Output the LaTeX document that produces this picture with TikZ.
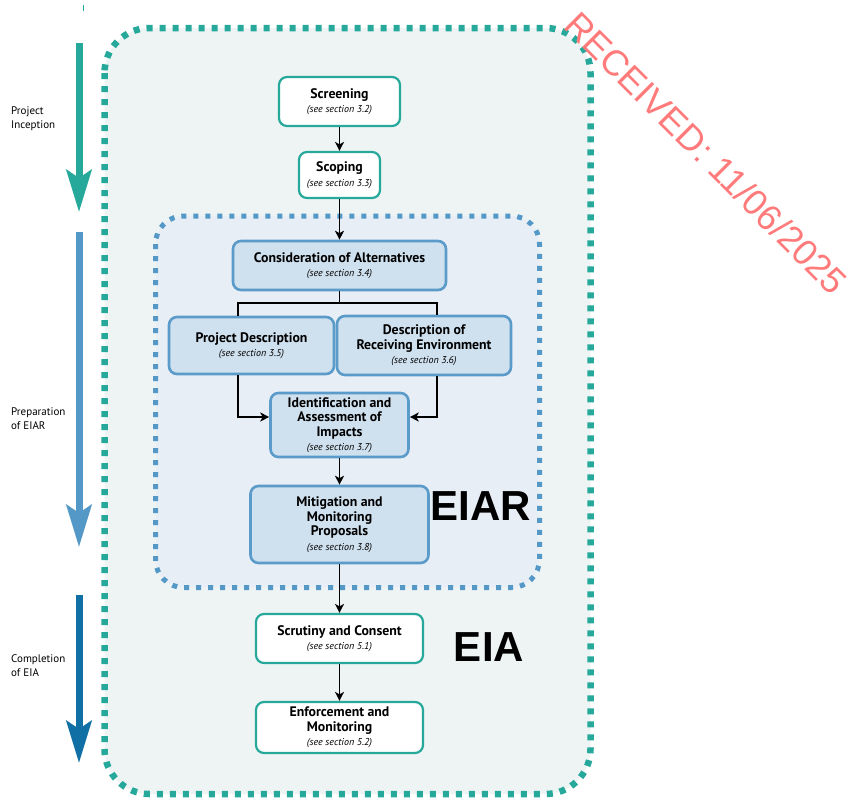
\documentclass[tikz,border=0pt]{standalone}
\usepackage{fontspec}
\setmainfont{PT Sans}
\newfontfamily\stampfont{Liberation Sans}
\usetikzlibrary{arrows.meta}
\definecolor{tealc}{HTML}{26A99B}
\definecolor{bluec}{HTML}{5398C6}
\definecolor{dblue}{HTML}{1070A6}
\definecolor{outerfill}{HTML}{EEF4F4}
\definecolor{innerfill}{HTML}{E8EEF6}
\definecolor{boxblue}{HTML}{CFE0EE}
\definecolor{boxborder}{HTML}{5B9BC9}
\definecolor{stampred}{HTML}{FF7A7A}
\tikzset{
  tbox/.style={draw=tealc, line width=2.2pt, fill=white, rounded corners=8pt, align=center, inner sep=1pt, font=\fontsize{13.8}{14.5}\selectfont},
  bbox/.style={draw=boxborder, line width=2.6pt, fill=boxblue, rounded corners=8pt, align=center, inner sep=1pt, font=\fontsize{13.8}{14.5}\selectfont},
  arr/.style={line width=1.7pt, -{Stealth[length=9pt,width=9pt,inset=2.5pt]}},
  ln/.style={line width=1.7pt},
  bigarr/.style={line width=7pt, -{Stealth[length=42pt,width=25pt,inset=8pt]}},
  side/.style={font=\fontsize{11}{14}\selectfont, align=left, anchor=west, inner sep=0pt}
}
\newcommand{\ttlf}{\bfseries\fontsize{13.8}{14.5}\selectfont}
\newcommand{\sect}[1]{{\fontsize{10}{14.5}\selectfont\itshape (see section #1)}}
\begin{document}
\begin{tikzpicture}[x=1pt,y=-1pt]
\useasboundingbox (0,0) rectangle (854,798);
\fill[white] (0,0) rectangle (854,798);
% outer dotted frame
\draw[tealc, fill=outerfill, line width=6.5pt, dash pattern=on 6pt off 7pt, rounded corners=45pt] (104.5,28) rectangle (590.5,794);
% inner dotted frame
\draw[bluec, fill=innerfill, line width=5pt, dash pattern=on 5pt off 7pt, rounded corners=28pt] (155.5,216) rectangle (539.5,587.5);
% tiny tick
\draw[tealc, line width=0.8pt] (83,5) -- (83,11);
% left arrows
\coordinate (a1s) at (79,43); \coordinate (a1e) at (79,212);
\coordinate (a2s) at (79,232); \coordinate (a2e) at (79,547);
\coordinate (a3s) at (79,595); \coordinate (a3e) at (79,763);
\draw[bigarr, tealc] (a1s) -- (a1e);
\draw[bigarr, bluec] (a2s) -- (a2e);
\draw[bigarr, dblue] (a3s) -- (a3e);
\node[side] (l1) at (11,119) {Project\\Inception};
\node[side] (l2) at (11,419) {Preparation\\of EIAR};
\node[side] (l3) at (11,666) {Completion\\of EIA};
% boxes
\node[tbox, minimum width=121pt, minimum height=49pt] (scr) at (339.5,101.5) {{\ttlf Screening}\\\sect{3.2}};
\node[tbox, minimum width=81pt, minimum height=46pt] (sco) at (339.5,175) {{\ttlf Scoping}\\\sect{3.3}};
\node[bbox, minimum width=213pt, minimum height=49pt] (alt) at (339.5,265.5) {{\ttlf Consideration of Alternatives}\\\sect{3.4}};
\node[bbox, minimum width=165pt, minimum height=57pt] (pd) at (251.5,345.5) {{\ttlf Project Description}\\\sect{3.5}};
\node[bbox, minimum width=174pt, minimum height=59pt] (dre) at (424,345.5) {{\ttlf Description of}\\{\ttlf Receiving Environment}\\\sect{3.6}};
\node[bbox, minimum width=138pt, minimum height=64pt] (imp) at (339.5,425) {{\ttlf Identification and}\\{\ttlf Assessment of}\\{\ttlf Impacts}\\\sect{3.7}};
\node[bbox, minimum width=178pt, minimum height=77pt] (mit) at (339.5,524.5) {{\ttlf Mitigation and}\\{\ttlf Monitoring}\\{\ttlf Proposals}\\\sect{3.8}};
\node[tbox, minimum width=167pt, minimum height=49pt] (sc) at (339.5,638.5) {{\ttlf Scrutiny and Consent}\\\sect{5.1}};
\node[tbox, minimum width=167pt, minimum height=51pt] (enf) at (339.5,727.5) {{\ttlf Enforcement and}\\{\ttlf Monitoring}\\\sect{5.2}};
% big labels
\node[font=\stampfont\bfseries\fontsize{42}{42}\selectfont, inner sep=0pt] (eiar) at (481,506) {EIAR};
\node[font=\stampfont\bfseries\fontsize{42}{42}\selectfont, inner sep=0pt] (eia) at (489,647) {EIA};
% connectors
\draw[arr] (scr.south) -- (sco.north);
\draw[arr] (sco.south) -- (alt.north);
\coordinate (jL) at (238,303);
\coordinate (jR) at (437,303);
\draw[ln] (alt.south) -- (alt.south |- jL);
\draw[ln] (jL |- pd.north) -- (jL) -- (jR) -- (jR |- dre.north);
\draw[arr] (jL |- pd.south) |- ([yshift=8pt]imp.west);
\draw[arr] (jR |- dre.south) |- ([yshift=8pt]imp.east);
\draw[arr] (imp.south) -- (mit.north);
\draw[arr] (mit.south) -- (sc.north);
\draw[arr] (sc.south) -- (enf.north);
% stamp
\node[font=\stampfont\fontsize{36}{36}\selectfont, text=stampred, rotate=-45, inner sep=0pt] (stamp) at (706,153) {RECEIVED: 11/06/2025};
\end{tikzpicture}
\end{document}
